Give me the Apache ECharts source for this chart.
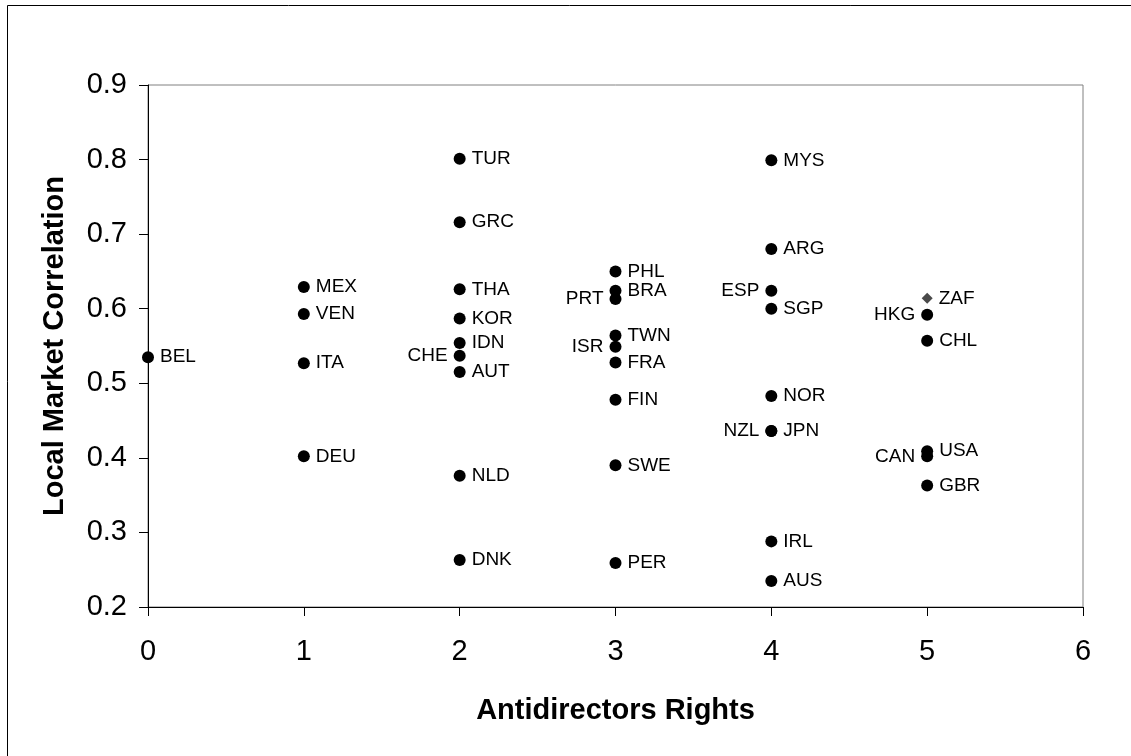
<!DOCTYPE html>
<html>
<head>
<meta charset="utf-8">
<script src="https://cdn.jsdelivr.net/npm/echarts@6/dist/echarts.min.js"></script>
<style>
html,body{margin:0;padding:0;background:#fff;}
#chart{width:1131px;height:756px;}
</style>
</head>
<body>
<div id="chart"></div>
<script>
// country codes, antidirector rights score, local market correlation
const countries = ['BEL','MEX','VEN','ITA','DEU','TUR','GRC','THA','KOR','IDN','CHE','AUT','NLD','DNK',
    'PHL','BRA','PRT','TWN','ISR','FRA','FIN','SWE','PER','MYS','ARG','ESP','SGP','NOR','JPN','NZL','IRL','AUS',
    'HKG','CHL','USA','CAN','GBR']
const rights = [0,1,1,1,1,2,2,2,2,2,2,2,2,2,3,3,3,3,3,3,3,3,3,4,4,4,4,4,4,4,4,4,5,5,5,5,5]
const correlation = [0.535,0.629,0.593,0.527,0.402,0.801,0.716,0.626,0.587,0.554,0.537,0.515,0.376,0.263,
    0.650,0.624,0.613,0.564,0.549,0.528,0.478,0.390,0.259,0.799,0.680,0.624,0.600,0.483,0.436,0.436,0.288,0.235,
    0.592,0.557,0.409,0.402,0.363]
// South Africa is drawn with a different marker
const zafPoint = ['ZAF',5,0.614]
// labels that sit on the left of their marker
const leftLabels = ['CHE','PRT','ISR','ESP','NZL','HKG','CAN']
const xTicks = [0,1,2,3,4,5,6]

let myChart = echarts.init(document.getElementById('chart'))
let pts = []
for(let i = 0;i<countries.length;i++){
    let item = {name:countries[i],value:[rights[i],correlation[i]]}
    if(leftLabels.indexOf(countries[i])>=0){
        item.label = {position:'left'}
    }
    pts.push(item)
}
const font = 'Liberation Sans, Arial, sans-serif'
myChart.setOption({
    animation:false,
    backgroundColor:'#fff',
    graphic:[{
        type:'rect',
        shape:{x:7.5,y:5.5,width:1300,height:900},
        style:{fill:'none',stroke:'#000',lineWidth:1}
    }],
    grid:{left:148,right:48,top:85,bottom:149,show:true,borderColor:'#808080',borderWidth:1},
    xAxis:{
        type:'value',min:0,max:6,interval:1,
        name:'Antidirectors Rights',nameLocation:'middle',nameGap:89,
        nameTextStyle:{fontFamily:font,fontSize:29,fontWeight:'bold',color:'#000'},
        axisLine:{show:true,lineStyle:{color:'#000',width:1}},
        axisTick:{show:true,length:9,lineStyle:{color:'#000'}},
        axisLabel:{fontFamily:font,fontSize:29,color:'#000',margin:30,
            formatter:v=>xTicks.indexOf(v)>=0?String(v):''},
        splitLine:{show:false}
    },
    yAxis:{
        type:'value',min:0.2,max:0.9,interval:0.1,
        name:'Local Market Correlation',nameLocation:'middle',nameGap:79,
        nameTextStyle:{fontFamily:font,fontSize:29,fontWeight:'bold',color:'#000'},
        axisLine:{show:true,lineStyle:{color:'#000',width:1}},
        axisTick:{show:true,length:9,lineStyle:{color:'#000'}},
        axisLabel:{fontFamily:font,fontSize:29,color:'#000',margin:21,
            formatter:v=>v.toFixed(1)},
        splitLine:{show:false}
    },
    series:[{
        type:'scatter',
        symbol:'circle',
        symbolSize:12,
        itemStyle:{color:'#000',opacity:1},
        label:{show:true,position:'right',distance:6,formatter:'{b}',
            fontFamily:font,fontSize:19,color:'#000'},
        data:pts
    },{
        type:'scatter',
        symbol:'diamond',
        symbolSize:11,
        itemStyle:{color:'#4a4a4a',opacity:1},
        label:{show:true,position:'right',distance:6,formatter:'{b}',
            fontFamily:font,fontSize:19,color:'#000'},
        data:[{name:zafPoint[0],value:[zafPoint[1],zafPoint[2]]}]
    }]
})
</script>
</body>
</html>
